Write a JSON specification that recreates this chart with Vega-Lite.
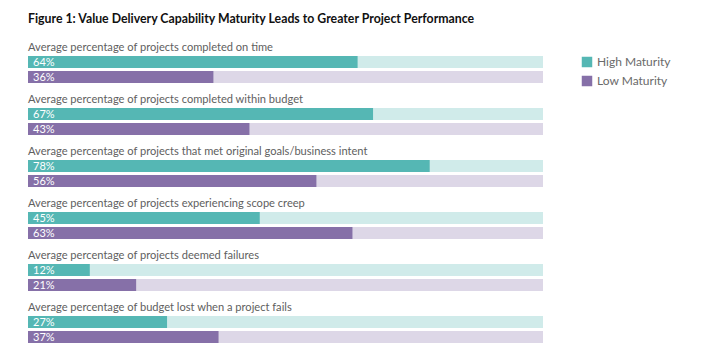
{
  "$schema": "https://vega.github.io/schema/vega-lite/v6.json",
  "autosize": {"type": "none"},
  "width": 515,
  "height": 287,
  "padding": {"left": 28, "top": 56, "right": 163, "bottom": 18},
  "background": "#ffffff",
  "title": {
    "text": "Figure 1: Value Delivery Capability Maturity Leads to Greater Project Performance",
    "anchor": "start",
    "frame": "group",
    "font": "Lato",
    "fontSize": 12.3,
    "fontWeight": "bold",
    "color": "#111111",
    "offset": 17
  },
  "config": {"view": {"stroke": null}},
  "data": {
    "values": [
      {"q": "Average percentage of projects completed on time", "series": "High Maturity", "value": 64},
      {"q": "Average percentage of projects completed on time", "series": "Low Maturity", "value": 36},
      {"q": "Average percentage of projects completed within budget", "series": "High Maturity", "value": 67},
      {"q": "Average percentage of projects completed within budget", "series": "Low Maturity", "value": 43},
      {"q": "Average percentage of projects that met original goals/business intent", "series": "High Maturity", "value": 78},
      {"q": "Average percentage of projects that met original goals/business intent", "series": "Low Maturity", "value": 56},
      {"q": "Average percentage of projects experiencing scope creep", "series": "High Maturity", "value": 45},
      {"q": "Average percentage of projects experiencing scope creep", "series": "Low Maturity", "value": 63},
      {"q": "Average percentage of projects deemed failures", "series": "High Maturity", "value": 12},
      {"q": "Average percentage of projects deemed failures", "series": "Low Maturity", "value": 21},
      {"q": "Average percentage of budget lost when a project fails", "series": "High Maturity", "value": 27},
      {"q": "Average percentage of budget lost when a project fails", "series": "Low Maturity", "value": 37}
    ]
  },
  "encoding": {
    "y": {
      "field": "q",
      "type": "nominal",
      "sort": null,
      "axis": null,
      "scale": {"paddingInner": 0.4808, "paddingOuter": 0}
    }
  },
  "layer": [
    {
      "mark": {"type": "bar", "cornerRadius": 0, "fillOpacity": 0.28},
      "encoding": {
        "x": {"datum": 0, "type": "quantitative", "scale": {"domain": [0, 100]}, "axis": null},
        "x2": {"datum": 100},
        "yOffset": {"field": "series", "type": "nominal", "scale": {"paddingInner": 0.2, "paddingOuter": 0}},
        "fill": {
          "field": "series",
          "type": "nominal",
          "scale": {"domain": ["High Maturity", "Low Maturity"], "range": ["#55b7b4", "#8670a8"]},
          "legend": {
            "title": null,
            "orient": "none",
            "legendX": 553,
            "legendY": 0,
            "symbolType": "square",
            "symbolSize": 110,
            "symbolStrokeWidth": 0,
            "symbolOpacity": 1,
            "labelFont": "Lato",
            "labelFontSize": 12,
            "labelColor": "#6a6a6a",
            "rowPadding": 7,
            "labelOffset": 4
          }
        }
      }
    },
    {
      "mark": {"type": "bar", "cornerRadius": 0},
      "encoding": {
        "x": {"field": "value", "type": "quantitative", "scale": {"domain": [0, 100]}, "axis": null},
        "yOffset": {"field": "series", "type": "nominal"},
        "fill": {"field": "series", "type": "nominal"}
      }
    },
    {
      "transform": [{"calculate": "datum.value + '%'", "as": "label"}],
      "mark": {"type": "text", "align": "left", "baseline": "middle", "dx": 5, "dy": 1, "font": "Lato", "fontSize": 11, "color": "#ffffff"},
      "encoding": {
        "x": {"datum": 0, "type": "quantitative"},
        "yOffset": {"field": "series", "type": "nominal"},
        "text": {"field": "label"}
      }
    },
    {
      "transform": [{"filter": "datum.series === 'High Maturity'"}],
      "mark": {"type": "text", "align": "left", "baseline": "alphabetic", "dy": -5, "font": "Lato", "fontSize": 11.1, "color": "#606060"},
      "encoding": {
        "x": {"datum": 0, "type": "quantitative"},
        "y": {"field": "q", "type": "nominal", "sort": null, "bandPosition": 0},
        "text": {"field": "q"}
      }
    }
  ]
}
